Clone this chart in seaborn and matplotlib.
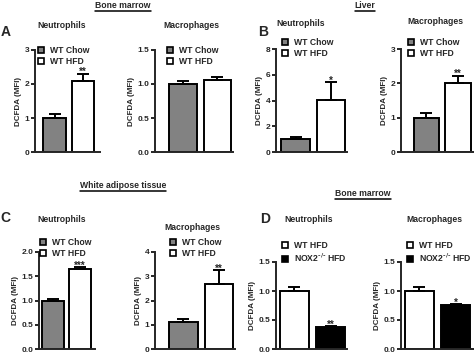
import matplotlib
matplotlib.use("Agg")
import matplotlib.pyplot as plt
from matplotlib.lines import Line2D
import seaborn as sns

# ---- data ----
groups_wt = ["WT Chow", "WT HFD"]
groups_nox = ["WT HFD", r"NOX2$^{\text{-/-}}$ HFD"]

neut_bm_mean = [1.0, 2.08]
neut_bm_sem = [0.12, 0.22]
mac_bm_mean = [1.0, 1.06]
mac_bm_sem = [0.05, 0.04]

neut_liver_mean = [1.0, 4.05]
neut_liver_sem = [0.18, 1.35]
mac_liver_mean = [1.0, 2.0]
mac_liver_sem = [0.15, 0.22]

neut_wat_mean = [1.0, 1.65]
neut_wat_sem = [0.04, 0.04]
mac_wat_mean = [1.12, 2.7]
mac_wat_sem = [0.10, 0.55]

neut_nox_mean = [1.0, 0.38]
neut_nox_sem = [0.07, 0.01]
mac_nox_mean = [1.0, 0.76]
mac_nox_sem = [0.07, 0.01]

sns.set_style("ticks")
plt.rcParams["font.family"] = ["Liberation Sans", "DejaVu Sans"]
plt.rcParams["font.weight"] = "bold"
plt.rcParams["mathtext.default"] = "bf"

W, H = 474, 353
fig = plt.figure(figsize=(W / 100, H / 100), dpi=100)

GRAY = "#828282"


def px_axes(l, t, r, b):
    return fig.add_axes([l / W, 1 - b / H, (r - l) / W, (b - t) / H])


def panel(rect, groups, means, sems, colors, yticks, ylabels, xlim, star,
          title, title_xy, leg_xy):
    ax = px_axes(*rect)
    sns.barplot(x=groups, y=means, hue=groups, palette=colors, legend=False,
                edgecolor="black", linewidth=1.4, width=0.8, ax=ax)
    ax.errorbar(range(len(means)), means, yerr=[[0] * len(sems), sems],
                fmt="none", ecolor="black", elinewidth=1.4, capsize=4,
                capthick=1.4)
    if star:
        ax.text(1, means[1] + sems[1] - yticks[-1] * 0.015, star,
                ha="center", va="baseline", fontsize=7, fontweight="bold")
    ax.set_ylim(0, yticks[-1])
    ax.set_xlim(*xlim)
    ax.set_yticks(yticks)
    ax.set_yticklabels(ylabels, fontsize=6, fontweight="bold")
    ax.set_xticks([])
    ax.set_xlabel("")
    ax.set_ylabel("DCFDA (MFI)", fontsize=5.8, fontweight="bold", labelpad=2)
    sns.despine(ax=ax)
    for s in ("left", "bottom"):
        ax.spines[s].set_linewidth(1.4)
    ax.tick_params(axis="y", length=3, width=1.4, pad=1)
    fig.text(title_xy[0] / W, 1 - title_xy[1] / H, title, ha="center",
             va="center", fontsize=6.2, fontweight="bold")
    handles = [Line2D([], [], marker="s", linestyle="", markersize=5,
                      markerfacecolor=c, markeredgecolor="black",
                      markeredgewidth=1.2) for c in colors]
    fig.legend(handles, groups, loc="upper left",
               bbox_to_anchor=(leg_xy[0] / W, 1 - leg_xy[1] / H),
               frameon=False, handlelength=0.8,
               handletextpad=0.6, labelspacing=0.2, borderpad=0,
               borderaxespad=0, prop={"weight": "bold", "size": 6.2})
    return ax


wt_colors = [GRAY, "white"]
nox_colors = ["white", "black"]

# A
panel((35, 50, 100, 152), groups_wt, neut_bm_mean, neut_bm_sem, wt_colors,
      [0, 1, 2, 3], ["0", "1", "2", "3"], (-0.7, 1.6), "**",
      "Neutrophils", (62, 26), (38, 46))
panel((155, 50, 233, 152), groups_wt, mac_bm_mean, mac_bm_sem, wt_colors,
      [0, 0.5, 1.0, 1.5], ["0.0", "0.5", "1.0", "1.5"], (-0.8, 1.45), "",
      "Macrophages", (191, 26), (167, 46))
# B
panel((276, 49, 347, 152), groups_wt, neut_liver_mean, neut_liver_sem, wt_colors,
      [0, 2, 4, 6, 8], ["0", "2", "4", "6", "8"], (-0.55, 1.45), "*",
      "Neutrophils", (301, 24), (282, 38))
panel((401, 49, 474, 152), groups_wt, mac_liver_mean, mac_liver_sem, wt_colors,
      [0, 1, 2, 3], ["0", "1", "2", "3"], (-0.8, 1.5), "**",
      "Macrophages", (435, 22), (408, 38))
# C
panel((39, 252, 95, 349), groups_wt, neut_wat_mean, neut_wat_sem, wt_colors,
      [0, 0.5, 1.0, 1.5, 2.0], ["0.0", "0.5", "1.0", "1.5", "2.0"], (-0.5, 1.55), "***",
      "Neutrophils", (62, 219), (40, 238))
panel((155, 252, 235, 349), groups_wt, mac_wat_mean, mac_wat_sem, wt_colors,
      [0, 1, 2, 3, 4], ["0", "1", "2", "3", "4"], (-0.8, 1.45), "**",
      "Macrophages", (192, 228), (170, 238))
# D
panel((276, 262, 347, 349), groups_nox, neut_nox_mean, neut_nox_sem, nox_colors,
      [0, 0.5, 1.0, 1.5], ["0.0", "0.5", "1.0", "1.5"], (-0.5, 1.45), "**",
      "Neutrophils", (309, 219), (282, 241))
panel((401, 262, 474, 349), groups_nox, mac_nox_mean, mac_nox_sem, nox_colors,
      [0, 0.5, 1.0, 1.5], ["0.0", "0.5", "1.0", "1.5"], (-0.5, 1.5), "*",
      "Macrophages", (434, 219), (407, 241))

# section headers with underline
headers = [("Bone marrow", 123, 5), ("Liver", 365, 5),
           ("White adipose tissue", 123, 185), ("Bone marrow", 363, 193)]
for txt, x, y in headers:
    t = fig.text(x / W, 1 - y / H, txt, ha="center", va="center",
                 fontsize=6.2, fontweight="bold")
    fig.canvas.draw()
    bb = t.get_window_extent()
    fig.add_artist(Line2D([bb.x0 / W, bb.x1 / W], [1 - (y + 6) / H] * 2,
                          color="black", lw=1.1))

# panel letters
for letter, x, y in [("A", 6, 32), ("B", 263, 32), ("C", 5, 218), ("D", 265, 219)]:
    fig.text(x / W, 1 - y / H, letter, ha="center", va="center",
             fontsize=10, fontweight="bold")

plt.savefig("out.png", dpi=100)
